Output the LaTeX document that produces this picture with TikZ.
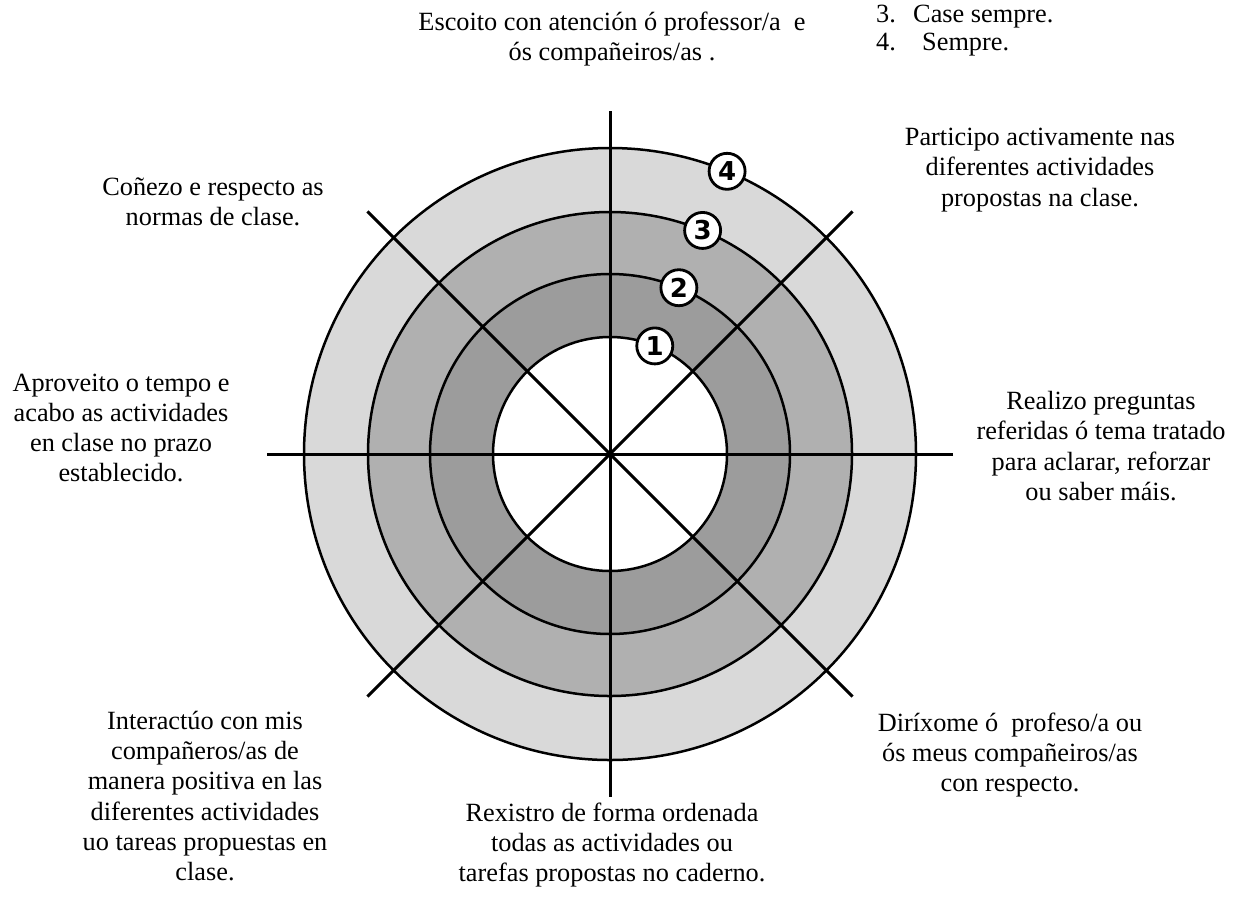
\documentclass[tikz,border=0pt]{standalone}
\usepackage{fontspec}
\setmainfont{Liberation Serif}
\newfontfamily\badgefont{DejaVu Sans}
\usetikzlibrary{calc}
\definecolor{g4}{HTML}{D9D9D9}
\definecolor{g3}{HTML}{B0B0B0}
\definecolor{g2}{HTML}{9C9C9C}
\tikzset{
  lbl/.style={align=center, font=\fontsize{26.3}{30.3}\selectfont, inner sep=0pt},
  listlbl/.style={anchor=base west, font=\fontsize{26.3}{30.3}\selectfont, inner sep=0pt},
  ring/.style={circle, draw=black, line width=2.5pt, inner sep=0pt, outer sep=0pt, minimum size=#1},
  spoke/.style={line width=3pt},
  badge/.style={circle, draw=black, fill=white, line width=2.8pt, minimum size=36pt, inner sep=0pt,
    font=\badgefont\bfseries\fontsize{26}{26}\selectfont}
}
\begin{document}
\begin{tikzpicture}[x=1pt,y=-1pt]
\path[use as bounding box] (0,0) rectangle (1233,898);
\coordinate (O) at (610,454);
\node[ring=612pt, fill=g4] (r4) at (O) {};
\node[ring=484pt, fill=g3] (r3) at (O) {};
\node[ring=360pt, fill=g2] (r2) at (O) {};
\node[ring=234pt, fill=white] (r1) at (O) {};
\foreach \a in {0,45,...,315} {
  \coordinate (s\a) at ($(O)+(\a:343pt)$);
}
\draw[spoke] (s0) -- (s180);
\draw[spoke] (s45) -- (s225);
\draw[spoke] (s90) -- (s270);
\draw[spoke] (s135) -- (s315);
\node[badge] (b1) at ($(O)+(67.5:117pt)$) {1};
\node[badge] (b2) at ($(O)+(67.5:180pt)$) {2};
\node[badge] (b3) at ($(O)+(67.5:242pt)$) {3};
\node[badge] (b4) at ($(O)+(67.5:306pt)$) {4};
\node[lbl] (tTop) at (612,39) {Escoito con atención ó professor/a\ \ e\\ós compañeiros/as .};
\node[listlbl] (l3n) at (876,22) {3.};
\node[listlbl] (l3t) at (913,22) {Case sempre.};
\node[listlbl] (l4n) at (876,50) {4.};
\node[listlbl] (l4t) at (922,50) {Sempre.};
\node[lbl] (tTL) at (213,202) {Coñezo e respecto as\\normas de clase.};
\node[lbl] (tTR) at (1040,170) {Participo activamente nas\\diferentes actividades\\propostas na clase.};
\node[lbl] (tL) at (121,428) {Aproveito o tempo e\\acabo as actividades\\en clase no prazo\\establecido.};
\node[lbl] (tR) at (1101,446) {Realizo preguntas\\referidas ó tema tratado\\para aclarar, reforzar\\ou saber máis.};
\node[lbl] (tBL) at (205,796) {Interactúo con mis\\compañeros/as de\\manera positiva en las\\diferentes actividades\\uo tareas propuestas en\\clase.};
\node[lbl] (tBR) at (1010,755) {Diríxome ó\ \ profeso/a ou\\ós meus compañeiros/as\\con respecto.};
\node[lbl] (tB) at (612,845) {Rexistro de forma ordenada\\todas as actividades ou\\tarefas propostas no caderno.};
\end{tikzpicture}
\end{document}
